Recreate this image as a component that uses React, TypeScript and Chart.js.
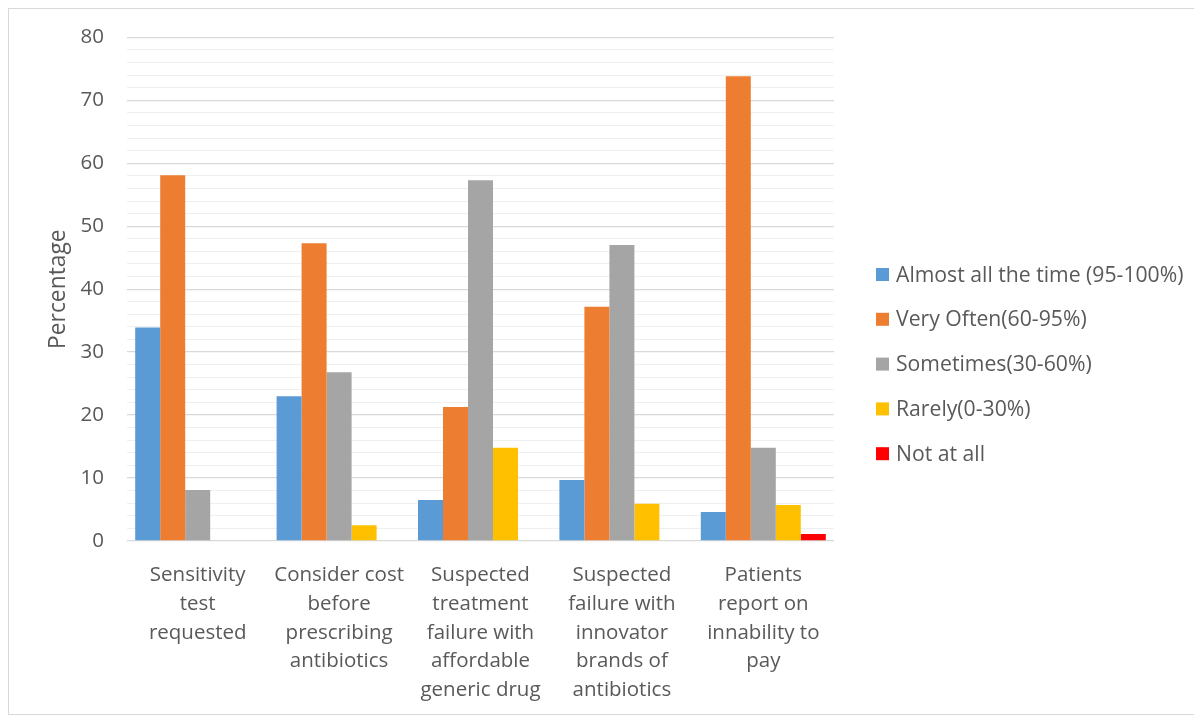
import React, { useEffect, useRef } from "react";
import { Chart, registerables } from "chart.js";

Chart.register(...registerables);

const categories: string[][] = [
  ["Sensitivity", "test", "requested"],
  ["Consider cost", "before", "prescribing", "antibiotics"],
  ["Suspected", "treatment", "failure with", "affordable", "generic drug"],
  ["Suspected", "failure with", "innovator", "brands of", "antibiotics"],
  ["Patients", "report on", "innability to", "pay"],
];

const seriesNames = [
  "Almost all the time (95-100%)",
  "Very Often(60-95%)",
  "Sometimes(30-60%)",
  "Rarely(0-30%)",
  "Not at all",
];

const almostAllTheTime = [33.9, 23.0, 6.5, 9.7, 4.6];
const veryOften = [58.1, 47.3, 21.3, 37.2, 73.8];
const sometimes = [8.1, 26.8, 57.3, 47.0, 14.8];
const rarely = [0, 2.5, 14.8, 5.9, 5.7];
const notAtAll = [0, 0, 0, 0, 1.1];

const seriesColors = ["#5b9bd5", "#ed7d31", "#a5a5a5", "#ffc000", "#ff0000"];

const yMax = 80;
const yMinorStep = 2;
const yMajorStep = 10;

const FONT = "'Open Sans', 'Noto Sans', sans-serif";
const FONT_SIZE = 20.5;
const LEGEND_FONT_SIZE = 21.2;
const TITLE_FONT_SIZE = 22.8;
const TEXT_COLOR = "#595959";

// Legend drawn to the right of the plot, one row per series
const sideLegend = {
  id: "sideLegend",
  afterDraw(chart: Chart) {
    const { ctx } = chart;
    const left = chart.chartArea.right + 42;
    const top = 265.5;
    const rowGap = 44.8;
    ctx.save();
    ctx.font = `${LEGEND_FONT_SIZE}px ${FONT}`;
    ctx.textBaseline = "middle";
    ctx.textAlign = "left";
    chart.data.datasets.forEach((ds, i) => {
      const cy = top + i * rowGap;
      ctx.fillStyle = ds.backgroundColor as string;
      ctx.fillRect(left, cy - 6.5, 13, 13);
      ctx.fillStyle = TEXT_COLOR;
      ctx.fillText(String(ds.label), left + 20, cy + 1);
    });
    ctx.restore();
  },
};

export default function App() {
  const canvasRef = useRef<HTMLCanvasElement | null>(null);

  useEffect(() => {
    if (!canvasRef.current) return;
    const values = [almostAllTheTime, veryOften, sometimes, rarely, notAtAll];
    const chart = new Chart(canvasRef.current, {
      type: "bar",
      data: {
        labels: categories,
        datasets: values.map((v, i) => ({
          label: seriesNames[i],
          data: v,
          backgroundColor: seriesColors[i],
          borderWidth: 0,
          categoryPercentage: 0.884,
          barPercentage: 1,
        })),
      },
      options: {
        responsive: false,
        animation: false,
        layout: { padding: { left: 32, right: 368, top: 28.3, bottom: 0 } },
        plugins: {
          legend: { display: false },
          tooltip: { enabled: false },
        },
        scales: {
          x: {
            grid: { display: false, drawTicks: false },
            border: { display: false },
            ticks: {
              color: TEXT_COLOR,
              font: { family: FONT, size: FONT_SIZE, lineHeight: 1.4 },
              padding: 20,
              maxRotation: 0,
              autoSkip: false,
            },
            afterFit: (scale: any) => {
              scale.height = 174;
            },
          },
          y: {
            min: 0,
            max: yMax,
            border: { display: false },
            grid: {
              drawTicks: false,
              color: (c: any) =>
                c.tick && c.tick.value % yMajorStep === 0 ? "#d9d9d9" : "#efefef",
              lineWidth: (c: any) =>
                c.tick && c.tick.value % yMajorStep === 0 ? 1.3 : 1,
            },
            ticks: {
              stepSize: yMinorStep,
              autoSkip: false,
              color: TEXT_COLOR,
              font: { family: FONT, size: FONT_SIZE },
              padding: 23,
              callback: (v: any) => (Number(v) % yMajorStep === 0 ? String(v) : ""),
            },
            title: {
              display: true,
              text: "Percentage",
              color: TEXT_COLOR,
              font: { family: FONT, size: TITLE_FONT_SIZE },
            },
            afterFit: (scale: any) => {
              scale.width = 86;
              scale.paddingTop = 0;
              scale.paddingBottom = 0;
            },
          },
        },
      },
      plugins: [sideLegend],
    });
    return () => chart.destroy();
  }, []);

  return (
    <div
      style={{
        width: 1192,
        height: 705,
        border: "1px solid #d9d9d9",
        background: "#fff",
        overflow: "hidden",
      }}
    >
      <canvas ref={canvasRef} width={1193} height={706} style={{ display: "block" }} />
    </div>
  );
}
